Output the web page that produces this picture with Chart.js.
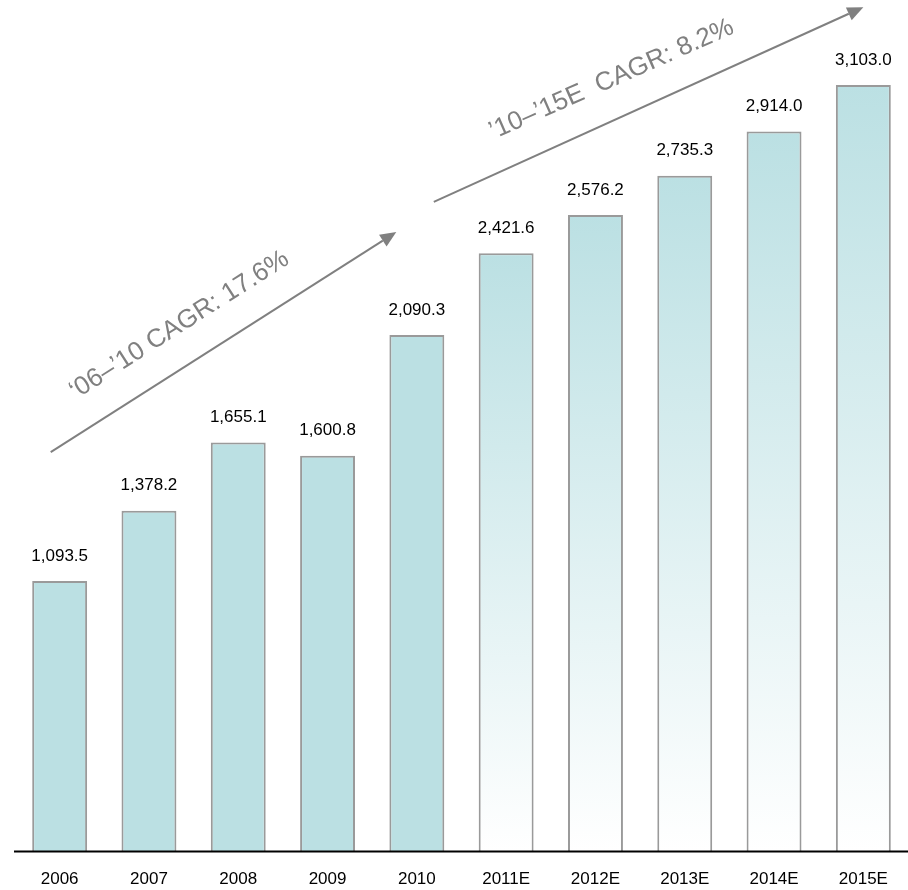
<!DOCTYPE html>
<html>
<head>
<meta charset="utf-8">
<script src="https://cdn.jsdelivr.net/npm/chart.js@4/dist/chart.umd.min.js"></script>
<style>
html,body{margin:0;padding:0;background:#fff;overflow:hidden;}
#wrap{width:908px;height:890px;}
</style>
</head>
<body>
<div id="wrap"><canvas id="c" width="908" height="890"></canvas></div>
<script>
const categories = ['2006','2007','2008','2009','2010','2011E','2012E','2013E','2014E','2015E'];
const values = [1093.5, 1378.2, 1655.1, 1600.8, 2090.3, 2421.6, 2576.2, 2735.3, 2914.0, 3103.0];
const estimated = [false,false,false,false,false,true,true,true,true,true];
const cagrLabels = ['\u201806\u2013\u201910 CAGR: 17.6%', '\u201910\u2013\u201915E  CAGR: 8.2%'];
// arrows in data coordinates: [startIndex, startValue, endIndex, endValue]
const cagrArrows = [[-0.1, 1616, 3.77, 2507], [4.19, 2629, 9.0, 3418]];
const cagrTextPos = [[1.34, 2130, -32.5], [6.18, 3125, -23.8]];

const SOLID = '#BBE0E3';
function barFill(ctx){
  const i = ctx.dataIndex;
  if (!estimated[i]) return SOLID;
  const chart = ctx.chart;
  const ys = chart.scales.y;
  if (!ys) return SOLID;
  const top = ys.getPixelForValue(values[i]);
  const bot = ys.getPixelForValue(0);
  const g = chart.ctx.createLinearGradient(0, top, 0, bot);
  g.addColorStop(0, SOLID);
  g.addColorStop(1, '#FFFFFF');
  return g;
}

const overlay = {
  id:'overlay',
  afterDatasetsDraw(chart){
    const c = chart.ctx, xs = chart.scales.x, ys = chart.scales.y;
    const meta = chart.getDatasetMeta(0);
    c.save();
    c.fillStyle = '#000';
    c.font = '17px "Liberation Sans", Arial, sans-serif';
    c.textAlign = 'center';
    c.textBaseline = 'middle';
    meta.data.forEach((bar, i) => {
      const txt = values[i].toLocaleString('en-US',{minimumFractionDigits:1, maximumFractionDigits:1});
      c.fillText(txt, bar.x, bar.y - 25);
    });
    const by = ys.getPixelForValue(0);
    c.strokeStyle = '#000';
    c.lineWidth = 2;
    c.beginPath();
    c.moveTo(14, by + 0.5);
    c.lineTo(chart.width, by + 0.5);
    c.stroke();
    const pxX = v => xs.getPixelForValue(0) + v * (xs.getPixelForValue(1) - xs.getPixelForValue(0));
    c.strokeStyle = '#808080';
    c.fillStyle = '#808080';
    c.lineWidth = 2;
    cagrArrows.forEach(a => {
      const x1 = pxX(a[0]), y1 = ys.getPixelForValue(a[1]);
      const x2 = pxX(a[2]), y2 = ys.getPixelForValue(a[3]);
      const ang = Math.atan2(y2 - y1, x2 - x1);
      const hl = 16, hw = 7;
      const bx = x2 - hl * Math.cos(ang), byy = y2 - hl * Math.sin(ang);
      c.beginPath();
      c.moveTo(x1, y1);
      c.lineTo(bx, byy);
      c.stroke();
      c.beginPath();
      c.moveTo(x2, y2);
      c.lineTo(bx + hw * Math.sin(ang), byy - hw * Math.cos(ang));
      c.lineTo(bx - hw * Math.sin(ang), byy + hw * Math.cos(ang));
      c.closePath();
      c.fill();
    });
    c.font = '26px "Liberation Sans", Arial, sans-serif';
    c.fillStyle = '#808080';
    c.textAlign = 'center';
    c.textBaseline = 'middle';
    cagrTextPos.forEach((p, i) => {
      c.save();
      c.translate(pxX(p[0]), ys.getPixelForValue(p[1]));
      c.rotate(p[2] * Math.PI / 180);
      c.fillText(cagrLabels[i], 0, 0);
      c.restore();
    });
    c.restore();
  }
};

new Chart(document.getElementById('c'), {
  type:'bar',
  data:{
    labels: categories,
    datasets:[{
      data: values,
      backgroundColor: barFill,
      borderColor:'#9A9A9A',
      borderWidth:2,
      borderSkipped:'bottom',
      categoryPercentage:1,
      barPercentage:0.615
    }]
  },
  options:{
    responsive:false,
    animation:false,
    layout:{padding:{left:15, right:0, top:0, bottom:0}},
    plugins:{legend:{display:false}, tooltip:{enabled:false}},
    scales:{
      x:{
        grid:{display:false, drawTicks:false},
        border:{display:false},
        ticks:{color:'#000', font:{size:17, family:'"Liberation Sans", Arial, sans-serif'}, padding:18, maxRotation:0},
        afterFit(scale){ scale.height = 39; }
      },
      y:{
        display:false,
        min:0, max:3447
      }
    }
  },
  plugins:[overlay]
});
</script>
</body>
</html>
